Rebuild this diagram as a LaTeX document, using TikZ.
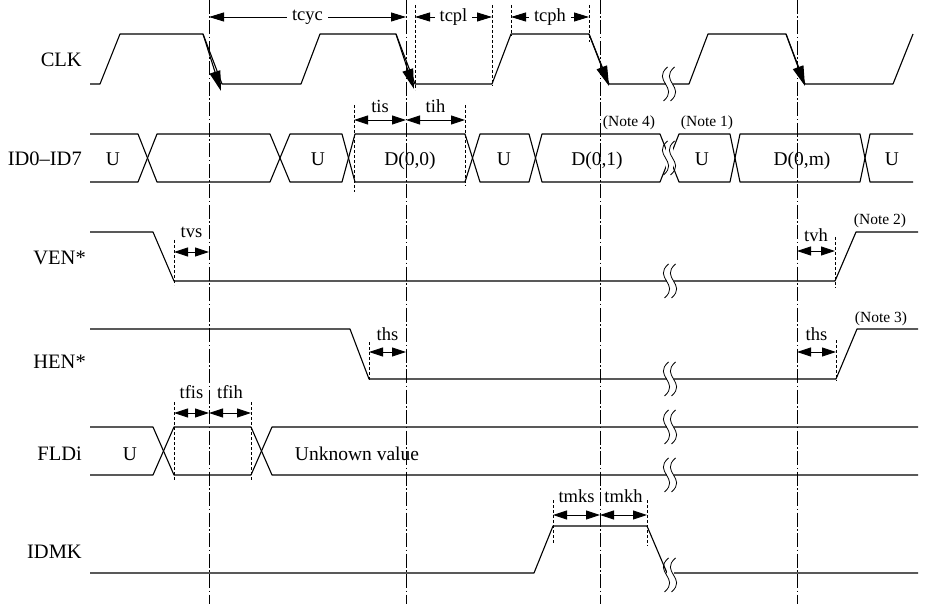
\documentclass[tikz,border=0pt]{standalone}
\usepackage{fontspec}
\setmainfont{Liberation Serif}
\usetikzlibrary{arrows.meta}
\newcommand{\brk}[2]{%
  \fill[white] ({#1-3.5},{#2-14}) rectangle ({#1+3.5},{#2+14});
  \draw[brkline] ({#1-1.5},{#2-17}) .. controls ({#1-17.5},{#2-3}) and ({#1+10.5},{#2+3}) .. ({#1-5.5},{#2+17});
  \draw[brkline] ({#1+5.5},{#2-17}) .. controls ({#1-10.5},{#2-3}) and ({#1+17.5},{#2+3}) .. ({#1+1.5},{#2+17});}
\newcommand{\dimarr}[6]{%
  \coordinate (#1-a) at (#2,#4);
  \coordinate (#1-b) at (#3,#4);
  \draw[dimline] (#1-a) -- (#1-b);
  \node[tlab] (#1) at ({(#2+#3)/2},#6) {#5};}
\newcommand{\cycarr}[5]{%
  \coordinate (#1-a) at (#2,#4);
  \coordinate (#1-b) at (#3,#4);
  \draw[toparr] (#1-a) -- node[tlab, anchor=center, fill=white, inner xsep=5pt, inner ysep=2pt] (#1) {#5} (#1-b);}

\begin{document}
\begin{tikzpicture}[x=1pt, y=-1pt,
  wave/.style={line width=1.1pt, line join=round},
  guide/.style={line width=0.6pt, dash pattern=on 14pt off 2.5pt on 1.5pt off 2.5pt},
  tickline/.style={line width=0.6pt, dash pattern=on 3pt off 2pt},
  dimline/.style={line width=0.9pt, {Triangle[length=14pt,width=9pt]}-{Triangle[length=14pt,width=9pt]}},
  toparr/.style={line width=0.9pt, {Triangle[length=15pt,width=9pt]}-{Triangle[length=15pt,width=9pt]}},
  clkarr/.style={line width=1.1pt, -{Triangle[length=20pt,width=11pt]}},
  brkline/.style={line width=0.8pt},
  sig/.style={font=\fontsize{20.5}{24}\selectfont, anchor=base east, inner sep=0pt},
  val/.style={font=\fontsize{19.5}{23}\selectfont, anchor=base, inner sep=0pt},
  tlab/.style={font=\fontsize{18.5}{21}\selectfont, anchor=base, inner sep=0pt},
  note/.style={font=\fontsize{15.5}{18}\selectfont, anchor=base, inner sep=0pt}]
\useasboundingbox (0,0) rectangle (929,604);

% ---- reference lines at the clock edges ----
\draw[guide] (209,0) -- (209,604);
\draw[guide] (406,0) -- (406,604);
\draw[guide] (600,0) -- (600,604);
\draw[guide] (797,0) -- (797,604);

% ---- signal names ----
\node[sig] (nclk) at (82,67) {CLK};
\node[sig] (nid) at (82,166) {ID0–ID7};
\node[sig] (nven) at (86,265) {VEN*};
\node[sig] (nhen) at (86,368) {HEN*};
\node[sig] (nfld) at (82,460) {FLDi};
\node[sig] (nmk) at (82,558) {IDMK};

% ---- CLK ----
\draw[wave] (90,84) -- (100,84) -- (120,34) -- (203,34) -- (222,84) -- (301,84)
  -- (320,34) -- (396,34) -- (415,84) -- (492,84) -- (511,34) -- (589,34)
  -- (609,84) -- (689,84) -- (708,34) -- (786,34) -- (805,84) -- (893,84) -- (913,34);
\draw[clkarr] (203,34) -- (221,91);
\draw[clkarr] (396,34) -- (414,89);
\draw[clkarr] (589,34) -- (609,86);
\draw[clkarr] (786,34) -- (805,86);
\brk{669}{84}
\draw[tickline] (415,5) -- (415,90);
\draw[tickline] (492,5) -- (492,86);
\draw[tickline] (511,5) -- (511,36);
\draw[tickline] (589,5) -- (589,42);
\cycarr{tcyc}{209}{406}{17}{tcyc}
\cycarr{tcpl}{415}{492}{17}{tcpl}
\cycarr{tcph}{511}{589}{17}{tcph}

% ---- ID0-ID7 ----
\draw[wave] (90,134) -- (138,134) -- (157,182) -- (270,182) -- (290,134) -- (342,134)
  -- (355,182) -- (465,182) -- (480,134) -- (529,134) -- (542,182) -- (660,182)
  -- (679,134) -- (730,134) -- (740,182) -- (860,182) -- (870,134) -- (913,134);
\draw[wave] (90,182) -- (138,182) -- (157,134) -- (270,134) -- (290,182) -- (342,182)
  -- (355,134) -- (465,134) -- (480,182) -- (529,182) -- (542,134) -- (660,134)
  -- (679,182) -- (730,182) -- (740,134) -- (860,134) -- (870,182) -- (913,182);
\brk{669}{158}
\node[val] (u1) at (113,166) {U};
\node[val] (u2) at (318,166) {U};
\node[val] (d00) at (410,166) {D(0,0)};
\node[val] (u3) at (504,166) {U};
\node[val] (d01) at (597,166) {D(0,1)};
\node[val] (u4) at (702,166) {U};
\node[val] (d0m) at (802,166) {D(0,m)};
\node[val] (u5) at (892,166) {U};
\node[note] (note4) at (629,127) {(Note 4)};
\node[note] (note1) at (707,127) {(Note 1)};
\draw[tickline] (354,105) -- (354,192);
\draw[tickline] (465,105) -- (465,186);
\dimarr{tis}{354}{406}{120}{tis}{113}
\dimarr{tih}{406}{465}{120}{tih}{113}

% ---- VEN* ----
\draw[wave] (90,232) -- (153,232) -- (174,281) -- (835,281) -- (856,232) -- (918,232);
\brk{670}{281}
\draw[tickline] (174,240) -- (174,285);
\draw[tickline] (835,237) -- (835,288);
\dimarr{tvs}{174}{209}{252}{tvs}{238}
\dimarr{tvh}{797}{835}{251}{tvh}{242}
\node[note] (note2) at (880,225) {(Note 2)};

% ---- HEN* ----
\draw[wave] (90,329) -- (350,329) -- (369,379) -- (836,379) -- (857,329) -- (918,329);
\brk{670}{379}
\draw[tickline] (369,342) -- (369,381);
\draw[tickline] (836,340) -- (836,381);
\dimarr{thsa}{369}{406}{352}{ths}{340}
\dimarr{thsb}{797}{836}{352}{ths}{340}
\node[note] (note3) at (881,322) {(Note 3)};

% ---- FLDi ----
\draw[wave] (90,427) -- (153,427) -- (174,475) -- (251,475) -- (272,427) -- (918,427);
\draw[wave] (90,475) -- (153,475) -- (174,427) -- (251,427) -- (272,475) -- (918,475);
\brk{670}{427}
\brk{670}{475}
\node[val] (uf) at (130,460) {U};
\node[val] (unk) at (357,460) {Unknown value};
\draw[tickline] (174,402) -- (174,480);
\draw[tickline] (251,402) -- (251,480);
\dimarr{tfis}{174}{209}{413}{tfis}{398}
\dimarr{tfih}{209}{251}{413}{tfih}{398}

% ---- IDMK ----
\draw[wave] (90,573) -- (534,573) -- (553,526) -- (647,526) -- (667,573) -- (918,573);
\brk{670}{575}
\draw[tickline] (553,500) -- (553,544);
\draw[tickline] (647,500) -- (647,546);
\dimarr{tmks}{553}{600}{515}{tmks}{502}
\dimarr{tmkh}{600}{647}{515}{tmkh}{502}

\end{tikzpicture}
\end{document}
